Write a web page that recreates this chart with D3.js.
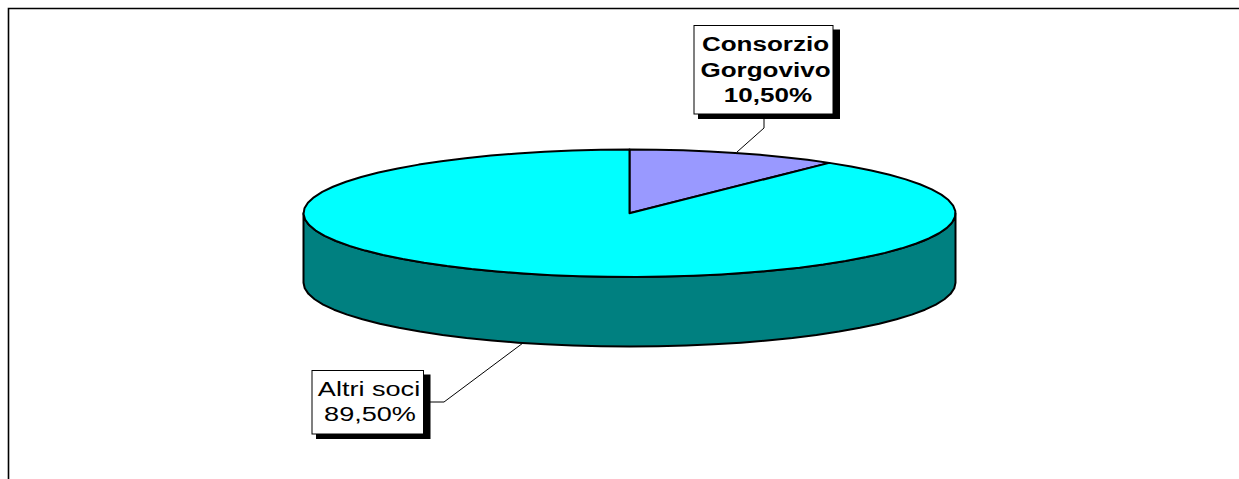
<!DOCTYPE html>
<html><head><meta charset="utf-8">
<style>html,body{margin:0;padding:0;background:#fff}svg{display:block}text{font-family:"Liberation Sans",Arial,sans-serif;font-size:21px;fill:#000}</style>
<script src="https://cdn.jsdelivr.net/npm/d3@7/dist/d3.min.js"></script>
</head><body><script>
const categories = ["Consorzio Gorgovivo", "Altri soci"];
const values = [10.5, 89.5];
const topColors = ["#9999FF", "#00FFFF"];
const sideColor = "#008080";
const labelLines = [["Consorzio", "Gorgovivo", "10,50%"], ["Altri soci", "89,50%"]];
const labelWeights = ["bold", "normal"];

const W = 1239, H = 479;
const svg = d3.select("body").append("svg").attr("width", W).attr("height", H);

// frame (open on the right and bottom)
svg.append("path").attr("d", "M8.5,479V8.5H1239").attr("fill", "none").attr("stroke", "#000").attr("stroke-width", 1.6);

// Unit-circle coordinates projected to an oblique ellipse
const x = d3.scaleLinear().domain([-1, 1]).range([303.5, 955.5]);
const y = d3.scaleLinear().domain([-1, 1]).range([149.5, 277]);
const depth = 69.5;
const pie = d3.pie().sort(null).value(d => d);
const arcs = pie(values);
const px = a => x(Math.sin(a)), py = a => y(-Math.cos(a));
// the reference outline is faceted, so the arcs are sampled coarsely
const sample = (a0, a1) => {
  const n = Math.max(3, Math.round((a1 - a0) / (2 * Math.PI) * 72));
  return d3.range(0, n + 1).map(i => a0 + (a1 - a0) * i / n);
};
const line = d3.line().x(d => d[0]).y(d => d[1]);

// side wall: the front half of the disc
const front = sample(Math.PI / 2, 3 * Math.PI / 2);
const wall = front.map(a => [px(a), py(a)]).concat(front.slice().reverse().map(a => [px(a), py(a) + depth]));
svg.append("path").attr("d", line(wall) + "Z").attr("fill", sideColor).attr("stroke", "#000").attr("stroke-width", 2).attr("stroke-linejoin", "round");

// top faces
svg.selectAll("path.slice").data(arcs).join("path").attr("class", "slice")
  .attr("d", d => line([[x(0), y(0)]].concat(sample(d.startAngle, d.endAngle).map(a => [px(a), py(a)]))) + "Z")
  .attr("fill", (d, i) => topColors[i]).attr("stroke", "#000").attr("stroke-width", 2).attr("stroke-linejoin", "round");

// callouts
const boxes = [
  {x0: 694, y0: 25.5, x1: 833, y1: 114, cx: [765.5, 765.5, 768], base: [51, 76.5, 102], sx: 1.24,
   lead: [[764, 118], [764, 128], [737, 152]]},
  {x0: 312, y0: 370.5, x1: 423.5, y1: 434, cx: [369, 370], base: [395.5, 421], sx: 1.29,
   lead: [[430, 402], [444, 402], [523, 343]]}
];
boxes.forEach((b, i) => {
  const g = svg.append("g").attr("class", "callout").attr("aria-label", categories[i]);
  g.append("path").attr("d", line(b.lead)).attr("fill", "none").attr("stroke", "#000").attr("stroke-width", 1);
  g.append("rect").attr("x", b.x0 + 4).attr("y", b.y0 + 4).attr("width", b.x1 - b.x0 + 3).attr("height", b.y1 - b.y0 + 1).attr("fill", "#000");
  g.append("rect").attr("x", b.x0).attr("y", b.y0).attr("width", b.x1 - b.x0).attr("height", b.y1 - b.y0).attr("fill", "#fff").attr("stroke", "#000").attr("stroke-width", 1);
  labelLines[i].forEach((t, j) => {
    g.append("text").attr("text-anchor", "middle").attr("font-weight", labelWeights[i])
      .attr("transform", `translate(${b.cx[j]},${b.base[j]}) scale(${b.sx},1)`).text(t);
  });
});
</script></body></html>
